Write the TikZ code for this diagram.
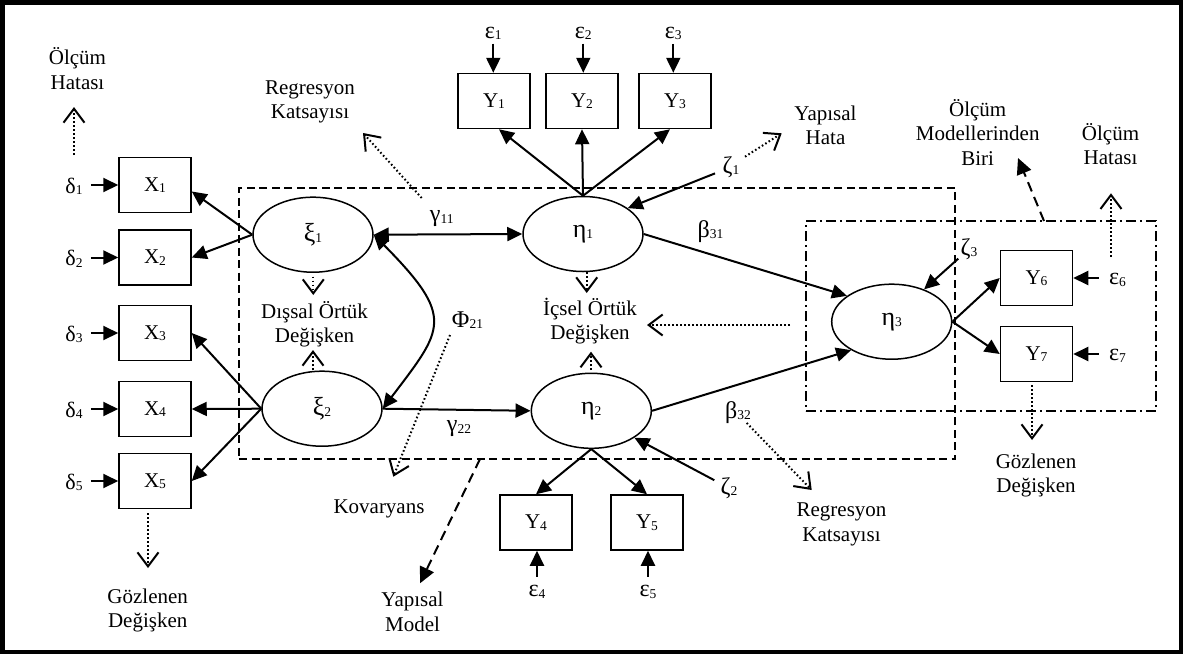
\documentclass[tikz,border=0pt]{standalone}
\usepackage{fontspec}
\setmainfont{Liberation Serif}
\usetikzlibrary{arrows.meta,shapes.geometric}

% small lowered index for variable names
\newcommand{\lowidx}[1]{\raisebox{-1.5pt}{\fontsize{13.5}{13.5}\selectfont#1}}
% enlarged Greek letters
\newcommand{\gk}[1]{{\fontsize{24}{24}\selectfont#1}}
\newcommand{\gkl}[1]{{\fontsize{26}{26}\selectfont#1}}
\newcommand{\gks}[1]{{\fontsize{22}{22}\selectfont#1}}
\newcommand{\notefont}{\fontsize{21}{24.5}\selectfont}

\begin{document}
\begin{tikzpicture}[x=1pt,y=-1pt,
  font=\notefont,
  obs/.style={draw, line width=1.5pt, minimum width=72pt, minimum height=55pt, inner sep=0pt},
  lat/.style={draw, ellipse, line width=1.5pt, minimum width=120pt, minimum height=75pt, inner sep=0pt},
  lbl/.style={inner sep=0pt},
  note/.style={inner sep=0pt, align=center},
  arr/.style={line width=2pt, -{Triangle[length=15pt,width=14pt]}},
  dblarr/.style={line width=2pt, {Triangle[length=15pt,width=14pt]}-{Triangle[length=15pt,width=14pt]}},
  dotarr/.style={line width=2pt, dash pattern=on 1.6pt off 2.4pt,
                 -{Straight Barb[length=14pt,width=21pt,line width=2pt]}},
  dasharr/.style={line width=2pt, dash pattern=on 10pt off 6pt,
                  -{Triangle[length=16pt,width=15pt]}},
  groupbox/.style={draw, line width=1.8pt, inner sep=0pt},
]
\useasboundingbox (0,0) rectangle (1183,654);
\draw[line width=4.5pt] (2.25,2.25) rectangle (1180.75,651.75);

% model frames
\node[groupbox, dash pattern=on 8pt off 4.5pt, minimum width=716pt, minimum height=271pt] (smod) at (597,323.5) {};
\node[groupbox, dash pattern=on 10pt off 4pt on 2pt off 4pt, minimum width=350pt, minimum height=190pt] (mbox) at (981,316) {};

% observed variables
\node[obs] (x1) at (155,185) {X\lowidx{1}};
\node[obs] (x2) at (155,257.5) {X\lowidx{2}};
\node[obs] (x3) at (155,333) {X\lowidx{3}};
\node[obs] (x4) at (155,409) {X\lowidx{4}};
\node[obs] (x5) at (155,481) {X\lowidx{5}};
\node[obs] (y1) at (494,101) {Y\lowidx{1}};
\node[obs] (y2) at (582,101) {Y\lowidx{2}};
\node[obs] (y3) at (675,101) {Y\lowidx{3}};
\node[obs] (y4) at (536,522.5) {Y\lowidx{4}};
\node[obs] (y5) at (647,522.5) {Y\lowidx{5}};
\node[obs] (y6) at (1036.5,278) {Y\lowidx{6}};
\node[obs] (y7) at (1036.5,354) {Y\lowidx{7}};

% latent variables
\node[lat] (xi1) at (313,234.7) {\gkl{ξ}\lowidx{1}};
\node[lat] (xi2) at (322,408.7) {\gkl{ξ}\lowidx{2}};
\node[lat] (eta1) at (583,234) {\gkl{η}\lowidx{1}};
\node[lat] (eta2) at (591.3,410.8) {\gkl{η}\lowidx{2}};
\node[lat] (eta3) at (891.7,321.7) {\gkl{η}\lowidx{3}};

% error terms
\node[lbl, anchor=base] (d1) at (74,193) {\gks{δ}\lowidx{1}};
\node[lbl, anchor=base] (d2) at (74,265.5) {\gks{δ}\lowidx{2}};
\node[lbl, anchor=base] (d3) at (74,341) {\gks{δ}\lowidx{3}};
\node[lbl, anchor=base] (d4) at (74,417) {\gks{δ}\lowidx{4}};
\node[lbl, anchor=base] (d5) at (74,489) {\gks{δ}\lowidx{5}};
\node[lbl, anchor=base] (e1) at (493.3,38) {\gk{ε}\lowidx{1}};
\node[lbl, anchor=base] (e2) at (583.3,38) {\gk{ε}\lowidx{2}};
\node[lbl, anchor=base] (e3) at (673.3,38) {\gk{ε}\lowidx{3}};
\node[lbl, anchor=base, text height=20pt] (e4) at (537,596.7) {\gk{ε}\lowidx{4}};
\node[lbl, anchor=base, text height=20pt] (e5) at (648,596.7) {\gk{ε}\lowidx{5}};
\node[lbl, anchor=base] (e6) at (1117.5,284.5) {\gk{ε}\lowidx{6}};
\node[lbl, anchor=base] (e7) at (1117.5,360.5) {\gk{ε}\lowidx{7}};
\node[lbl] (z1) at (731,167) {\gk{ζ}\lowidx{1}};
\node[lbl] (z2) at (729,488) {\gk{ζ}\lowidx{2}};
\node[lbl] (z3) at (969,249) {\gk{ζ}\lowidx{3}};

% path coefficients
\node[lbl] (g11) at (441.7,219) {\gk{γ}\lowidx{11}};
\node[lbl] (g22) at (459,429) {\gk{γ}\lowidx{22}};
\node[lbl] (b31) at (710.5,231.5) {\gk{β}\lowidx{31}};
\node[lbl] (b32) at (738,412.5) {\gk{β}\lowidx{32}};
\node[lbl] (phi) at (467.5,320) {\gk{Φ}\lowidx{21}};

% explanatory notes
\node[note] (meas1) at (77.5,72) {\strut Ölçüm\\Hatası\strut};
\node[note] (reg1) at (310,101.7) {\strut Regresyon\\Katsayısı\strut};
\node[note] (yhata) at (825.5,127.4) {\strut Yapısal\\Hata\strut};
\node[note] (mmodel) at (977.7,135.6) {\strut Ölçüm\\Modellerinden\\Biri\strut};
\node[note] (meas2) at (1110.5,147.4) {\strut Ölçüm\\Hatası\strut};
\node[note] (obs2) at (1036,475.7) {\strut Gözlenen\\Değişken\strut};
\node[note] (obs1) at (147.7,610.7) {\strut Gözlenen\\Değişken\strut};
\node[note] (exo) at (314.5,325.4) {\strut Dışsal Örtük\\Değişken\strut};
\node[note] (endo) at (590,322.4) {\strut İçsel Örtük\\Değişken\strut};
\node[note] (kov) at (379,508.4) {\strut Kovaryans};
\node[note] (ymodel) at (412.5,614.1) {\strut Yapısal\\Model\strut};
\node[note] (reg2) at (841.5,524.1) {\strut Regresyon\\Katsayısı\strut};

% error arrows
\foreach \d/\x in {d1/x1,d2/x2,d3/x3,d4/x4,d5/x5}
  \draw[arr, shorten <=8pt] (\d.east |- \x) -- (\x.west);
\foreach \e/\y in {e1/y1,e2/y2,e3/y3}
  \draw[arr, shorten <=4pt] (\e.south) -- (\e.south |- \y.north);
\foreach \e/\y in {e4/y4,e5/y5}
  \draw[arr] (\e.north) -- (\e.north |- \y.south);
\foreach \e/\y in {e6/y6,e7/y7}
  \draw[arr, shorten <=10pt] (\e.west |- \y) -- (\y.east);
\draw[arr, shorten <=8pt] (z1) -- (eta1.30);
\draw[arr, shorten <=7pt] (z2) -- (eta2.-32);
\draw[arr, shorten <=3pt] (z3) -- (eta3.45);

% loadings
\draw[arr] (xi1.west) -- (x1.-10);
\draw[arr] (xi1.west) -- (x2.east);
\draw[arr] (xi2.west) -- (x3.east);
\draw[arr] (xi2.west) -- (x4.east);
\draw[arr] (xi2.west) -- (x5.east);
\draw[arr] (eta1.north) -- (y1.-80);
\draw[arr] (eta1.north) -- (y2.south);
\draw[arr] (eta1.north) -- (y3.-100);
\draw[arr] (eta2.south) -- (y4.north);
\draw[arr] (eta2.south) -- (y5.north);
\draw[arr] (eta3.east) -- (y6.west);
\draw[arr] (eta3.east) -- (y7.west);

% structural paths
\draw[dblarr] (xi1.east) -- (eta1.west);
\draw[arr] (xi2.east) -- (eta2.west);
\draw[arr] (eta1.east) -- (eta3.150);
\draw[arr] (eta2.east) -- (eta3.-145);
\draw[dblarr] (xi1.east) .. controls (456,318) and (443.2,328.7) .. (xi2.east);

% annotation arrows
\coordinate (a1s) at (74,155);      \coordinate (a1e) at (74,107);
\coordinate (a2s) at (421.7,198);   \coordinate (a2e) at (363,133);
\coordinate (a3s) at (745,156.7);   \coordinate (a3e) at (781.7,133.3);
\coordinate (a4s) at (1044,221);    \coordinate (a4e) at (1018,158);
\coordinate (a5s) at (1111,256.7);  \coordinate (a5e) at (1111,193.3);
\coordinate (a6s) at (1032,385);    \coordinate (a6e) at (1032,440);
\coordinate (a7s) at (148,513);     \coordinate (a7e) at (148,568);
\coordinate (a8s) at (313.3,276.7); \coordinate (a8e) at (313.3,295);
\coordinate (a9s) at (313,370);     \coordinate (a9e) at (313,350);
\coordinate (a10s) at (586.7,272);  \coordinate (a10e) at (586.7,293);
\coordinate (a11s) at (591,370);    \coordinate (a11e) at (591,351.7);
\coordinate (a12s) at (790,325);    \coordinate (a12e) at (647,325);
\coordinate (a13s) at (450,335);    \coordinate (a13e) at (393.3,476.7);
\coordinate (a14s) at (480,459);    \coordinate (a14e) at (420,583.3);
\coordinate (a15s) at (746.7,423);  \coordinate (a15e) at (811.7,490);

\foreach \n in {1,2,3,5,6,7,8,9,10,11,12,13,15}
  \draw[dotarr] (a\n s) -- (a\n e);
\draw[dasharr] (a4s) -- (a4e);
\draw[dasharr] (a14s) -- (a14e);
\end{tikzpicture}
\end{document}
